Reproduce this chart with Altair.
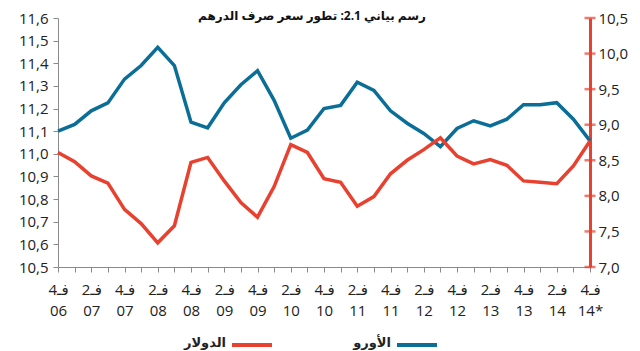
import json
import altair as alt
import pandas as pd

# ---- data ----
quarter_index = list(range(33))  # Q4 2006 ... Q4 2014
euro = [11.10, 11.13, 11.19, 11.225, 11.33, 11.39, 11.47, 11.39, 11.14, 11.115,
        11.225, 11.305, 11.367, 11.236, 11.069, 11.105, 11.20, 11.214, 11.316, 11.28,
        11.19, 11.135, 11.09, 11.032, 11.112, 11.146, 11.123, 11.153, 11.217, 11.217,
        11.226, 11.153, 11.057]
dollar = [8.61, 8.48, 8.28, 8.18, 7.81, 7.61, 7.34, 7.58, 8.47, 8.54,
          8.21, 7.905, 7.70, 8.13, 8.72, 8.61, 8.24, 8.19, 7.855, 7.99,
          8.31, 8.50, 8.65, 8.815, 8.56, 8.45, 8.51, 8.43, 8.21, 8.19,
          8.17, 8.42, 8.77]
label_quarter = ["فـ4", "فـ2", "فـ4", "فـ2", "فـ4", "فـ2", "فـ4", "فـ2", "فـ4",
                 "فـ2", "فـ4", "فـ2", "فـ4", "فـ2", "فـ4", "فـ2", "فـ4"]
label_year = ["06", "07", "07", "08", "08", "09", "09", "10", "10",
              "11", "11", "12", "12", "13", "13", "14", "14*"]
left_ticks = [10.5, 10.6, 10.7, 10.8, 10.9, 11.0, 11.1, 11.2, 11.3, 11.4, 11.5, 11.6]
right_ticks = [7.0, 7.5, 8.0, 8.5, 9.0, 9.5, 10.0, 10.5]
series_names = ["الأورو", "الدولار"]
series_colors = ["#0b6e96", "#e8412f"]
title_text = "رسم بياني 2.1: تطور سعر صرف الدرهم"

FONT = "Open Sans, DejaVu Sans, sans-serif"
TOP = 10
W, H = 532, 249
BLUE, RED = series_colors

df = pd.DataFrame({"i": quarter_index, "euro": euro, "dollar": dollar})

comma_expr = "replace(format(datum.value, '.1f'), '.', ',')"
x_label_expr = (
    "datum.value % 2 == 0 ? [" + json.dumps(label_quarter, ensure_ascii=False)
    + "[datum.value / 2], " + json.dumps(label_year, ensure_ascii=False)
    + "[datum.value / 2]] : ''"
)

x_enc = alt.X(
    "i:Q",
    scale=alt.Scale(domain=[0, 32], nice=False, zero=False),
    axis=alt.Axis(
        values=quarter_index, labelExpr=x_label_expr, title=None, grid=False,
        tickSize=5, labelPadding=10, labelLineHeight=21, labelAngle=0,
        labelFontSize=15, labelColor="#222", domainColor="#8a8a8a",
        tickColor="#8a8a8a", labelOverlap=False, labelFlush=False,
        labelBound=False, labelFont=FONT,
    ),
)

euro_line = alt.Chart(df).mark_line(color=BLUE, strokeWidth=3.5).encode(
    x=x_enc,
    y=alt.Y(
        "euro:Q",
        scale=alt.Scale(domain=[10.5, 11.6], nice=False, zero=False),
        axis=alt.Axis(
            orient="left", values=left_ticks, labelExpr=comma_expr, title=None,
            grid=False, tickSize=5, labelPadding=5, labelFontSize=15,
            labelColor="#222", domainColor="#8a8a8a", tickColor="#8a8a8a",
            labelFont=FONT, labelFlush=False,
        ),
    ),
)

dollar_scale = alt.Scale(domain=[7.0, 10.5], nice=False, zero=False)
dollar_axis = alt.Axis(
    orient="right", values=right_ticks, labelExpr=comma_expr, title=None,
    grid=False, ticks=False, labelPadding=8, labelFontSize=15,
    labelColor="#222", domainColor=RED, domainWidth=3,
    labelFont=FONT, labelFlush=False,
)
dollar_line = alt.Chart(df).mark_line(color=RED, strokeWidth=3.5).encode(
    x=x_enc,
    y=alt.Y("dollar:Q", scale=dollar_scale, axis=dollar_axis),
)
dollar_ticks = alt.Chart(pd.DataFrame({"dollar": right_ticks})).mark_tick(
    color=RED, thickness=2.5, size=11
).encode(
    y=alt.Y("dollar:Q", scale=dollar_scale, axis=dollar_axis),
    x=alt.value(W),
)

legend_y = 327
leg_dollar_line = alt.Chart(pd.DataFrame({"n": [series_names[1]]})).mark_rule(
    color=RED, strokeWidth=4
).encode(x=alt.value(174), x2=alt.value(214), y=alt.value(legend_y))
leg_dollar_text = alt.Chart(pd.DataFrame({"n": [series_names[1]]})).mark_text(
    align="right", baseline="middle", fontSize=13, fontWeight="bold",
    color="#222", font=FONT,
).encode(text="n:N", x=alt.value(168), y=alt.value(legend_y - 2))
leg_euro_line = alt.Chart(pd.DataFrame({"n": [series_names[0]]})).mark_rule(
    color=BLUE, strokeWidth=4
).encode(x=alt.value(339), x2=alt.value(379), y=alt.value(legend_y))
leg_euro_text = alt.Chart(pd.DataFrame({"n": [series_names[0]]})).mark_text(
    align="right", baseline="middle", fontSize=13, fontWeight="bold",
    color="#222", font=FONT,
).encode(text="n:N", x=alt.value(333), y=alt.value(legend_y - 2))

title_mark = alt.Chart(pd.DataFrame({"t": [title_text]})).mark_text(
    align="center", baseline="top", fontSize=12, fontWeight="bold",
    color="#111", font=FONT,
).encode(text="t:N", x=alt.value(254), y=alt.value(-TOP + 3))

chart = alt.layer(
    euro_line,
    alt.layer(dollar_line, dollar_ticks),
    leg_dollar_line, leg_dollar_text, leg_euro_line, leg_euro_text, title_mark,
).resolve_scale(y="independent").properties(
    width=W, height=H,
    autosize=alt.AutoSizeParams(type="none"),
    padding={"left": 50, "top": TOP, "right": 42, "bottom": 84},
    background="white",
).configure_view(stroke=None)

chart.save("out.html", embed_options={"renderer": "svg", "actions": False})
